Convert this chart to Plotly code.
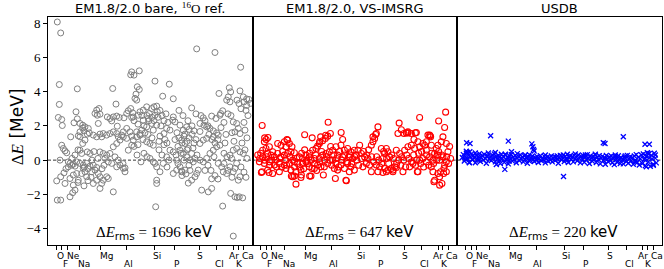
import plotly.graph_objects as go
from plotly.subplots import make_subplots

# ---------------- data ----------------
# x = position along the nucleus axis (ordered O ... Ca), y = Delta E in MeV
element_names = ["O", "F", "Ne", "Na", "Mg", "Al", "Si", "P", "S", "Cl", "Ar", "K", "Ca"]
element_tick_pos = [8.3, 13.8, 19.2, 32.0, 52.5, 78.8, 107.0, 126.5, 151.5, 169.0, 185.5, 190.3, 195.8]
element_label_pos = [12.3, 17.3, 25.0, 36.3, 58.2, 80.5, 108.7, 128.7, 152.5, 171.8, 185.6, 191.4, 199.8]
element_row = [0, 1, 0, 1, 0, 1, 0, 1, 0, 1, 0, 1, 0]

panel_titles = ["EM1.8/2.0 bare, <span style='font-family:Liberation Serif'><sup>16</sup>O</span> ref.",
                "EM1.8/2.0, VS-IMSRG",
                "USDB"]
rms_kev = [1696, 647, 220]
y_ticks = [-4, -2, 0, 2, 4, 6, 8]

bare_pts = [
    (9.3, 8.06), (12.7, 7.42), (11.3, 4.41), (29.3, 4.16), (11.3, 3.25), (28, 2.82), (10.3, 2.49), (13.7, 2.37),
    (14.3, 2.02), (26, 2.18), (29.3, 2.41), (34.7, 1.87), (36, 1.71), (41.3, 1.59), (22.7, 1.36), (30.3, 1.42),
    (48.7, 2.92), (51, 3.01), (47, 2.72), (49.3, 2.62), (52, 2.68), (50.3, 2.14),
    (59.3, 2.52), (62, 2.43), (65.3, 2.52), (63.7, 2.29), (68.7, 2.57), (71.3, 2.49),
    (64.7, 4.18), (68, 3.27), (69.3, 1.98),
    (76, 2.47), (78.7, 2.72), (80.3, 2.88), (82.7, 3.01), (84.7, 2.76), (85.3, 2.52), (83.7, 2.49),
    (83.7, 5.15), (86, 4.96), (91.3, 5.21), (82.7, 4.98),
    (89.3, 4.28), (91.3, 4.12), (88, 3.85), (87, 3.6), (88.7, 3.5),
    (107, 4.61), (121.3, 4.43), (114.7, 3.73), (125.3, 3.58), (143.7, 3.05),
    (148.7, 6.49), (167, 6.28), (192.7, 5.42), (171, 3.89),
    (181.3, 4.22), (182.7, 3.98), (180.3, 3.69), (178.7, 3.5), (182, 3.4), (192, 4.04), (195.3, 3.69),
    (198.7, 3.57), (201, 3.54), (202.7, 3.31), (198.7, 3.19),
    (155.3, 2.47), (163.7, 2.57), (168, 2.43), (172.7, 2.72), (174.7, 2.88), (172, 2.62),
    (152, 1.67), (146, 1.71), (141.3, 1.79), (138.7, 1.94),
    (125.3, 2.52), (127, 2.23), (124.7, 2.33),
    (122, 1.75), (118.7, 1.85), (116, 1.55), (112, 1.40),
    (98.7, 3.11), (103.7, 3.01), (106, 3.11), (108.7, 3.15), (109.3, 2.82), (107, 2.62), (101.3, 2.72),
    (95.3, 2.92), (92, 2.82), (90.3, 2.62),
    (95.3, 2.33), (100.3, 2.43), (103.7, 2.14), (98.7, 1.94), (105.3, 1.75), (108.7, 2.04),
    (93.7, 1.75), (97, 1.59), (92, 1.46), (88.7, 1.65),
    (78.7, 1.85), (75.3, 1.65), (73.7, 1.46), (82, 1.65), (83.7, 1.40),
    (65.3, 1.65), (62, 1.55), (58.7, 1.46), (68.7, 1.55), (70.3, 1.36),
    (32, 2.14), (34.7, 2.04), (37, 1.94), (40.3, 1.85), (32, 1.65), (39.3, 1.52),
    (45.3, 1.46), (48.7, 1.36), (52, 1.52), (55.3, 1.55), (53.7, 1.36),
    (132, 2.04), (135.3, 1.75), (137, 1.52),
    (152, 2.14), (156, 2.04), (158.7, 1.94), (162, 1.85), (165.3, 1.71), (168.7, 1.59), (170.3, 1.46),
    (185.3, 2.23), (188.7, 2.14), (190.3, 1.85), (187, 1.65), (192, 1.55), (197, 1.75),
    (12, 0.0), (8.7, -1.21), (12.7, -0.97), (16, -0.74),
    (13.7, 0.87), (15.3, 0.68), (17, 0.54), (18.7, 0.43),
    (20.3, -0.1), (22, -0.19), (23.7, -0.29), (25.3, -0.23), (27, -0.35), (20.3, -0.39),
    (17, -1.36), (22, -1.07), (25.3, -0.87), (28.7, -0.78),
    (9.3, -2.33), (12.7, -2.33),
    (22, -2.14), (24.7, -1.9), (25.3, -1.46), (27, -1.75),
    (30.3, -1.17), (33.7, -0.78), (37, -0.68), (38.7, -0.97), (35.3, -0.48),
    (28.7, -0.1), (32, -0.19), (35.3, -0.29), (38.7, -0.19), (42, -0.35), (45.3, -0.29), (48.7, -0.43),
    (39.3, 0.48), (42, 0.39), (33.7, 0.39), (32, 0.58), (34.7, 0.97), (37, 1.17), (32, 1.36),
    (43.7, -0.68), (47, -0.58), (50.3, -0.78), (52, -0.97), (48.7, -1.17), (45.3, -1.36),
    (52, -1.65), (53.7, -1.36), (55.3, -1.17), (58.7, -0.97), (60.3, -1.07),
    (65.3, -1.85),
    (52, 0.48), (55.3, 0.39), (58.7, 0.29), (62, 0.39), (57, 0.1), (60.3, -0.1), (63.7, -0.19),
    (67, 0.19), (70.3, 0.0), (68.7, -0.39), (72, -0.29), (75.3, -0.48), (77, -0.68),
    (65.3, 0.78), (68.7, 0.97), (72, 1.17), (75.3, 1.36), (78.7, 1.27),
    (80.3, 0.58), (83.7, 0.87), (85.3, 1.17), (88.7, 1.36), (92, 1.55),
    (98.7, 1.07), (102, 0.97), (105.3, 0.87),
    (102, 0.1), (105.3, -0.1), (107, -0.19), (108.7, -0.39),
    (108.7, -1.17), (108.7, -1.36), (107.7, -2.72),
    (112, -0.68), (115.3, -0.19), (118.7, 0.19), (122, 0.58), (125.3, 0.48), (128.7, 0.0),
    (125.3, -0.78), (128.7, -0.58), (132, -0.39), (133.7, -0.68), (137, -0.58),
    (132, 0.58), (135.3, 0.39), (138.7, 0.19), (142, 0.0), (145.3, -0.1), (143.7, 0.39), (140.3, 0.68),
    (137, 0.97), (133.7, 1.17),
    (143.7, -1.17), (147, -0.97), (148.7, -0.78), (150.3, -0.58),
    (153.7, -1.75), (160.3, -1.85), (163.7, -1.65),
    (152, 0.0), (155.3, -0.1), (158.7, 0.1), (162, 0.39), (165.3, 0.58), (168.7, 0.78), (172, 0.87),
    (152, 0.97), (155.3, 1.17), (158.7, 1.27), (165.3, 1.36),
    (170.3, -0.19), (173.7, -0.39), (175.3, -0.68), (178.7, -0.78),
    (174.7, -2.68),
    (182, 0.29), (183.7, 0.1), (185.3, 0.58), (188.7, 0.68), (192, 0.48),
    (182, -0.39), (185.3, -0.68), (187, -0.48), (188.7, -0.19),
    (182.7, -1.94), (187, -2.14), (189.3, -2.18), (191.3, -2.14), (194.7, -2.2),
    (185.3, -4.43), (190.3, -1.17), (192, -0.97), (195.3, 0.39),
    (86, 2.3), (90, 2.1), (94, 2.6), (96, 2.0), (99, 2.6), (101, 2.3), (104, 2.5), (106, 2.3), (110, 2.5),
    (112, 2.9), (114, 2.6), (116, 2.3), (118, 2.7), (120, 2.2), (113, 2.0), (117, 1.2), (119, 1.0), (111, 1.1),
    (100, 1.5), (104, 1.3), (95, 1.2), (90, 0.9), (86, 0.8), (111, 0.6), (114, 0.3), (119, -0.4), (121, 0.0),
    (116, 0.9), (96, 0.4), (99, 0.2), (93, -0.1), (89, 0.3), (75, -0.2), (77, -0.45),
    (127, 1.2), (129, 1.6), (131, 1.3), (134, 1.0), (136, 1.4), (139, 1.1), (141, 1.3), (144, 1.5), (146, 1.0),
    (148, 1.2), (130, 0.8), (133, 0.4), (139, 0.6), (145, 0.7), (149, 0.3), (128, 0.3), (136, 0.0), (141, -0.3),
    (147, 0.1), (130, -0.2), (134, -0.9), (138, -0.8), (142, -0.6), (135, 2.6), (140, 2.3), (144, 2.0),
    (148, 2.7), (131, 2.9), (140.3, -1.34), (133.7, -0.64), (163.7, -1.09),
    (153, 2.6), (157, 2.3), (160, 2.0), (161, 1.5), (164, 1.2), (167, 1.0), (170, 1.2), (173, 1.9), (176, 2.2),
    (178, 1.5), (177, 1.0), (180, 2.7), (183, 2.6), (184, 1.6), (186, 1.1), (176, 0.4), (179, 0.2), (166, 0.2),
    (160, -0.3), (163, -0.6), (167, -0.9), (170, -1.1), (157, -0.6), (176, -0.2), (180, -0.6), (184, -1.0),
    (189, 3.5), (191, 3.3), (193, 3.0), (196, 3.4), (198, 2.9), (200, 2.6), (196, 2.2), (199, 1.3), (194, 1.0),
    (197, 0.6), (199, 0.1), (193, -0.4), (196, -0.7), (198, -1.0),
    (18, -0.5), (24, 0.1), (27, 0.3), (30, 0.6), (36, -0.4), (40, -0.5), (44, 0.0), (46, 0.5), (50, 0.1),
    (43, -1.0), (40, -1.2), (36, -1.5), (30, -1.3), (54, -0.5), (56, -0.3),
]

imsrg_pts = [
    (9.5, 2.02), (75.5, 2.21), (167, 2.49), (193, 2.8), (186, 2.28), (88.5, 1.61), (52, 1.48), (146.5, 2.16),
    (125.3, 1.94), (192, 1.9), (148.7, 1.77), (153.7, 1.59), (162.7, 1.59), (175.3, 1.46), (177.5, 1.42),
    (190.3, 1.36), (12, 1.3), (15.3, 1.32), (13.5, 1.2), (11.7, 1.07), (34.3, 1.2), (59.5, 1.3), (68, 1.36),
    (73, 1.45), (123, 1.5), (120.3, 1.36),
    (77.7, 1.55), (75, 1.4), (72.7, 1.26), (70, 1.13), (66.7, 0.97), (65, 0.82), (63.3, 0.68), (60, 0.58),
    (90, 1.2),
    (25, 0.97), (28.3, 0.87), (31.7, 1.07), (33.3, 0.78), (36.7, 0.97), (39.3, 0.78), (35, 1.17),
    (10, 0.58), (13.3, 0.68), (16.7, 0.78), (15, 0.39), (10, 0.19), (18.3, 0.29), (20, 0.49),
    (21.7, 0.19), (25, 0.39), (28.3, 0.19), (31.7, 0.29), (35, 0.39), (38.3, 0.49), (41.7, 0.43),
    (6.7, -0.1), (11.7, -0.19), (16.7, -0.1), (21.7, -0.29), (26.7, -0.19), (31.7, -0.29), (36.7, -0.19),
    (41.7, -0.1),
    (9.3, -0.68), (15, -0.58), (20, -0.78), (26.7, -0.68), (33.3, -0.49), (38.3, -0.58), (43.3, -0.68),
    (48.3, -0.58), (40, -0.97), (41.7, -0.93), (48.3, -1.01), (43.3, -1.4),
    (46.7, 0.19), (50, 0.1), (53.3, 0.29), (56.7, 0.19), (58.3, 0.0), (61.7, 0.1), (53.3, -0.1), (50, -0.19),
    (56.7, -0.39), (58.3, -0.93), (59.3, -0.49), (61.7, -0.49), (65, -0.29), (68.3, -0.39), (71.7, -0.39),
    (70.7, -0.87), (66.7, 0.1), (70, 0.29), (73.3, 0.39), (76.7, 0.49), (80, 0.58),
    (80, 0.0), (83.3, -0.19), (81.7, -0.49), (85, -0.58), (82.7, -1.07), (88.3, -0.29), (91.7, -0.49),
    (95, -0.19), (96.7, -0.68), (93.3, -1.17), (98.3, -0.39), (101.7, -0.58),
    (83.3, 0.78), (88.3, 0.87), (91.7, 0.58), (95, 0.68), (98.3, 0.49), (101.7, 0.58),
    (85, 0.29), (90, 0.19), (96.7, 0.19), (100, 0.1),
    (123.7, 1.55), (122, 1.26), (120.3, 1.07), (118.7, 0.87),
    (145.3, 1.55), (151.3, 1.55), (155.3, 1.65), (163.7, 1.61), (161.3, 1.2), (165.3, 1.07),
    (178, 1.36), (173.7, 1.07), (172, 0.87), (178.7, 0.87),
    (188.7, 1.07), (193.7, 0.97), (185.3, 0.87), (183.7, 0.68),
    (107, 0.87), (105.3, 0.58), (108.7, 0.39), (103.7, 0.29),
    (112, 0.19), (115.3, 0.1), (113.7, -0.19), (117, -0.29), (110.3, -0.39),
    (128.7, 0.68), (133.7, 0.68), (132, 0.39), (135.3, 0.49), (130.3, 0.1), (137, 0.19),
    (123.7, -0.29), (127, -0.39), (132, -0.49), (135.3, -0.58), (138.7, -0.49), (142, -0.39), (125.3, -0.68),
    (133.7, -0.68), (140.3, -0.58),
    (150.3, -0.68), (164.7, -0.68), (157, -0.39), (160.3, -0.19), (167, 0.0),
    (143.7, 0.58), (147, 0.39), (152, 0.58), (155.3, 0.78), (158.7, 0.87), (162, 0.68), (167, 0.78),
    (170.3, 0.97), (173.7, 0.58),
    (170.3, 0.1), (173.7, -0.1), (177, 0.19), (180.3, 0.0), (182, 0.39), (185.3, 0.29), (187, 0.0),
    (190.3, 0.19), (195.3, 0.49), (193.7, -0.1),
    (178.7, -0.39), (180.3, -0.68), (185.3, -0.78), (182, -1.17), (187, -0.97), (189.3, -1.36), (188, -0.68),
    (191.3, -0.49), (193.7, -0.68),
    (93.7, -1.2), (187, -1.46), (181.3, -1.26), (8.7, -0.72), (16.3, -0.72), (38.7, -0.93), (48.7, -0.87),
    (57, -0.93), (130.3, -0.72), (140.3, -0.68), (165.3, -0.68), (191, -0.78), (118.7, -0.68), (143.7, -0.43),
    (67, 1.07), (155.3, 1.59), (158.7, 1.55), (177, 1.46),
    (5, 0.3), (7, 0.1), (8, 0.4), (12, 0.0), (14, 0.2), (17, -0.3), (19, 0.0), (23, 0.0), (24, -0.4), (27, 0.1),
    (29, -0.4), (30, 0.5), (33, 0.0), (34, -0.3), (37, 0.2), (40, 0.0), (42, -0.4), (44, 0.1), (45, -0.2),
    (47, -0.4), (49, 0.4), (51, -0.5), (52, 0.6), (54, 0.0), (55, -0.2), (57, 0.4), (62, -0.2), (63, 0.3),
    (64, -0.6), (67, -0.1), (69, 0.5), (72, 0.0), (74, 0.2), (75, -0.2), (77, 0.0), (78, 0.8), (79, -0.3),
    (81, 0.3), (84, 0.1), (86, -0.4), (87, 0.5), (89, 0.0), (92, 0.3), (94, -0.1), (97, 0.3), (99, -0.2),
    (102, 0.2), (104, 0.0), (106, -0.3), (109, 0.1), (111, 0.5), (114, 0.3), (116, 0.6), (119, 0.2),
    (121, -0.1), (124, 0.2), (126, 0.0), (129, -0.2), (131, 0.5), (134, 0.1), (136, -0.2), (139, 0.3),
    (141, 0.1), (144, -0.2), (146, 0.0), (148, -0.3), (149, 0.2), (151, 0.0), (153, -0.4), (154, 0.3),
    (156, 0.1), (159, -0.1), (161, 0.3), (163, -0.3), (164, 0.0), (166, 0.4), (168, -0.2), (169, 0.5),
    (171, -0.4), (174, 0.3), (176, -0.3), (179, 0.4), (181, -0.2), (184, 0.0), (186, 0.5), (189, 0.3),
    (192, -0.3), (194, 0.2), (196, -0.2), (197, 0.8), (198, 0.1),
]

usdb_pts = [
    (5, 0.15), (6, 0.32), (7, -0.05), (8, 0.22), (9, 0.40), (10, 0.08), (11, 0.28), (12, -0.12), (13, 0.18), (14, 0.35),
    (15, 0.02), (16, 0.25), (17, 0.12), (18, -0.15), (19, 0.30), (20, 0.05), (21, 0.20), (22, 0.38), (23, -0.08), (24, 0.15),
    (25, 0.27), (26, 0.00), (27, 0.33), (28, 0.10), (29, -0.18), (30, 0.24), (31, 0.42), (32, 0.06), (33, 0.18), (34, -0.02),
    (35, 0.30), (36, 0.12), (37, 0.36), (38, -0.10), (39, 0.20), (40, 0.05), (41, 0.28), (42, 0.15), (43, -0.20), (44, 0.34),
    (45, 0.08), (46, 0.22), (47, -0.12), (48, 0.30), (49, 0.02), (50, 0.16), (51, -0.22), (52, 0.26), (53, 0.10), (54, 0.32),
    (55, -0.05), (56, 0.18), (57, 0.06), (58, 0.28), (59, -0.15), (60, 0.12), (61, 0.22), (62, -0.02), (63, 0.30), (64, 0.08),
    (65, 0.18), (66, -0.10), (67, 0.25), (68, 0.04), (69, 0.14), (70, -0.18), (71, 0.20), (72, 0.32), (73, 0.00), (74, 0.12),
    (75, 0.24), (76, 0.06), (77, -0.08), (78, 0.16), (79, 0.02), (80, 0.20), (81, -0.14), (82, 0.10), (83, 0.26), (84, -0.04),
    (85, 0.12), (86, 0.04), (87, 0.22), (88, -0.16), (89, 0.08), (90, 0.18), (91, -0.06), (92, 0.14), (93, 0.00), (94, 0.24),
    (95, -0.10), (96, 0.10), (97, 0.20), (98, -0.02), (99, 0.16), (100, 0.06), (101, -0.18), (102, 0.12), (103, 0.28), (104, 0.02),
    (105, 0.18), (106, 0.30), (107, -0.08), (108, 0.22), (109, 0.10), (110, 0.34), (111, -0.14), (112, 0.16), (113, 0.26), (114, 0.04),
    (115, 0.20), (116, -0.10), (117, 0.28), (118, 0.08), (119, 0.16), (120, -0.04), (121, 0.30), (122, 0.12), (123, -0.16), (124, 0.22),
    (125, 0.06), (126, 0.26), (127, -0.12), (128, 0.18), (129, 0.02), (130, 0.32), (131, 0.10), (132, -0.20), (133, 0.24), (134, 0.14),
    (135, -0.06), (136, 0.20), (137, 0.08), (138, 0.30), (139, -0.14), (140, 0.16), (141, 0.04), (142, 0.26), (143, -0.22), (144, 0.12),
    (145, 0.22), (146, -0.02), (147, 0.14), (148, -0.24), (149, 0.28), (150, 0.06), (151, -0.10), (152, 0.18), (153, 0.00), (154, 0.24),
    (155, -0.16), (156, 0.10), (157, -0.26), (158, 0.20), (159, 0.04), (160, -0.12), (161, 0.26), (162, 0.08), (163, -0.20), (164, 0.14),
    (165, 0.02), (166, -0.22), (167, 0.18), (168, 0.10), (169, -0.08), (170, 0.28), (171, -0.18), (172, 0.06), (173, 0.20), (174, -0.04),
    (175, 0.14), (176, -0.24), (177, 0.24), (178, 0.00), (179, 0.32), (180, -0.12), (181, 0.16), (182, -0.28), (183, 0.08), (184, 0.30),
    (185, -0.20), (186, 0.36), (187, 0.04), (188, -0.32), (189, 0.22), (190, 0.44), (191, -0.10), (192, 0.14), (193, -0.36), (194, 0.28),
    (195, 0.06), (196, -0.24), (197, 0.40), (198, 0.12), (199, -0.16),
    (8, 0.05), (10, 0.45), (12, -0.15), (18, 0.42), (22, 0.0), (30, 0.2), (38, 0.45), (42, 0.0), (48, 0.35),
    (52, -0.05), (60, 0.38), (68, 0.3), (72, -0.05), (88, 0.3), (100, 0.25), (110, 0.0), (118, 0.36), (128, 0.3),
    (138, 0.35), (148, 0.1), (158, 0.3), (168, 0.25), (178, -0.1), (188, 0.1), (192, 0.38), (196, -0.3), (198, 0.3),
    (9.3, 1.01), (12.7, 0.97), (33.3, 1.42), (51, 1.11), (74.5, 0.95), (75.5, 0.78), (76.2, 0.63), (76.8, 0.53),
    (146, 1.01), (147.7, 0.97), (166, 1.36), (187.7, 0.93), (192, 0.93), (47.5, -0.54), (106.2, -0.95),
    (9, 0.52), (12.5, 0.49), (54.2, 0.49), (190.7, 0.39), (39, -0.25), (189, -0.39),
]

# ---------------- figure ----------------
X_RANGE = [0, 204.7]
Y_RANGE = [-4.95, 8.35]

fig = make_subplots(rows=1, cols=3, shared_yaxes=True, horizontal_spacing=0)

styles = [
    dict(symbol="circle-open", size=6, color="#808080", line=dict(width=1, color="#808080")),
    dict(symbol="circle-open", size=6, color="#ff0000", line=dict(width=1.1, color="#ff0000")),
    dict(symbol="x-thin", size=5, color="#0000ff", line=dict(width=1.3, color="#0000ff")),
]
for i, pts in enumerate([bare_pts, imsrg_pts, usdb_pts]):
    fig.add_trace(go.Scatter(x=[p[0] for p in pts], y=[p[1] for p in pts], mode="markers",
                             marker=styles[i], showlegend=False, hoverinfo="skip"), row=1, col=i + 1)

for i in range(3):
    fig.update_xaxes(range=X_RANGE, tickmode="array", tickvals=element_tick_pos, showticklabels=False,
                     ticks="outside", ticklen=4, tickwidth=1, tickcolor="black", automargin=False,
                     showline=True, linecolor="black", linewidth=1, mirror=True,
                     showgrid=False, zeroline=False, row=1, col=i + 1)
    fig.update_yaxes(range=Y_RANGE, showline=True, linecolor="black", linewidth=1, mirror=True,
                     showgrid=False, zeroline=False, automargin=False, row=1, col=i + 1)
fig.update_yaxes(tickmode="array", tickvals=y_ticks, ticks="outside", ticklen=4, tickwidth=1,
                 tickcolor="black", tickfont=dict(family="Liberation Serif", size=13, color="black"),
                 row=1, col=1)
fig.update_yaxes(showticklabels=False, ticks="", row=1, col=2)
fig.update_yaxes(showticklabels=False, ticks="", row=1, col=3)

axis_names = ["x", "x2", "x3"]
yaxis_names = ["y", "y2", "y3"]
annotations = []
shapes = []
serif = "<span style='font-family:Liberation Serif'>"
label_y = [-0.048, -0.084]
for i in range(3):
    shapes.append(dict(type="line", xref=axis_names[i] + " domain", yref=yaxis_names[i],
                       x0=0, x1=1, y0=0, y1=0, line=dict(color="black", width=0.8, dash="3px,2px"),
                       layer="below"))
    annotations.append(dict(text=panel_titles[i], xref=axis_names[i] + " domain", x=0.5,
                            yref="paper", y=1.0, yanchor="bottom", yshift=-1, showarrow=False,
                            font=dict(family="DejaVu Sans", size=13, color="black")))
    annotations.append(dict(text=serif + "Δ<i>E</i></span><sub>rms</sub>" + serif + " = " +
                            str(rms_kev[i]) + " </span>keV",
                            xref=axis_names[i] + " domain", x=0.52, yref="paper", y=0.053,
                            yanchor="middle", showarrow=False,
                            font=dict(family="DejaVu Sans", size=15, color="black")))
    for pos, name, row in zip(element_label_pos, element_names, element_row):
        annotations.append(dict(text=name, xref=axis_names[i], x=pos, yref="paper", y=label_y[row],
                                yanchor="middle", showarrow=False,
                                font=dict(family="DejaVu Sans", size=9, color="black")))

annotations.append(dict(text=serif + "Δ<i>E</i></span> [MeV]", xref="paper", x=-0.049,
                        yref="paper", y=0.52, xanchor="center", yanchor="middle", textangle=-90,
                        showarrow=False, font=dict(family="DejaVu Sans", size=17, color="black")))

fig.update_layout(width=664, height=269, margin=dict(l=48, r=2, t=17, b=24),
                  plot_bgcolor="white", paper_bgcolor="white",
                  annotations=annotations, shapes=shapes)

fig.write_html("out.html", config={"displayModeBar": False},
               post_script="document.body.style.margin='0';document.body.style.overflow='hidden';")
